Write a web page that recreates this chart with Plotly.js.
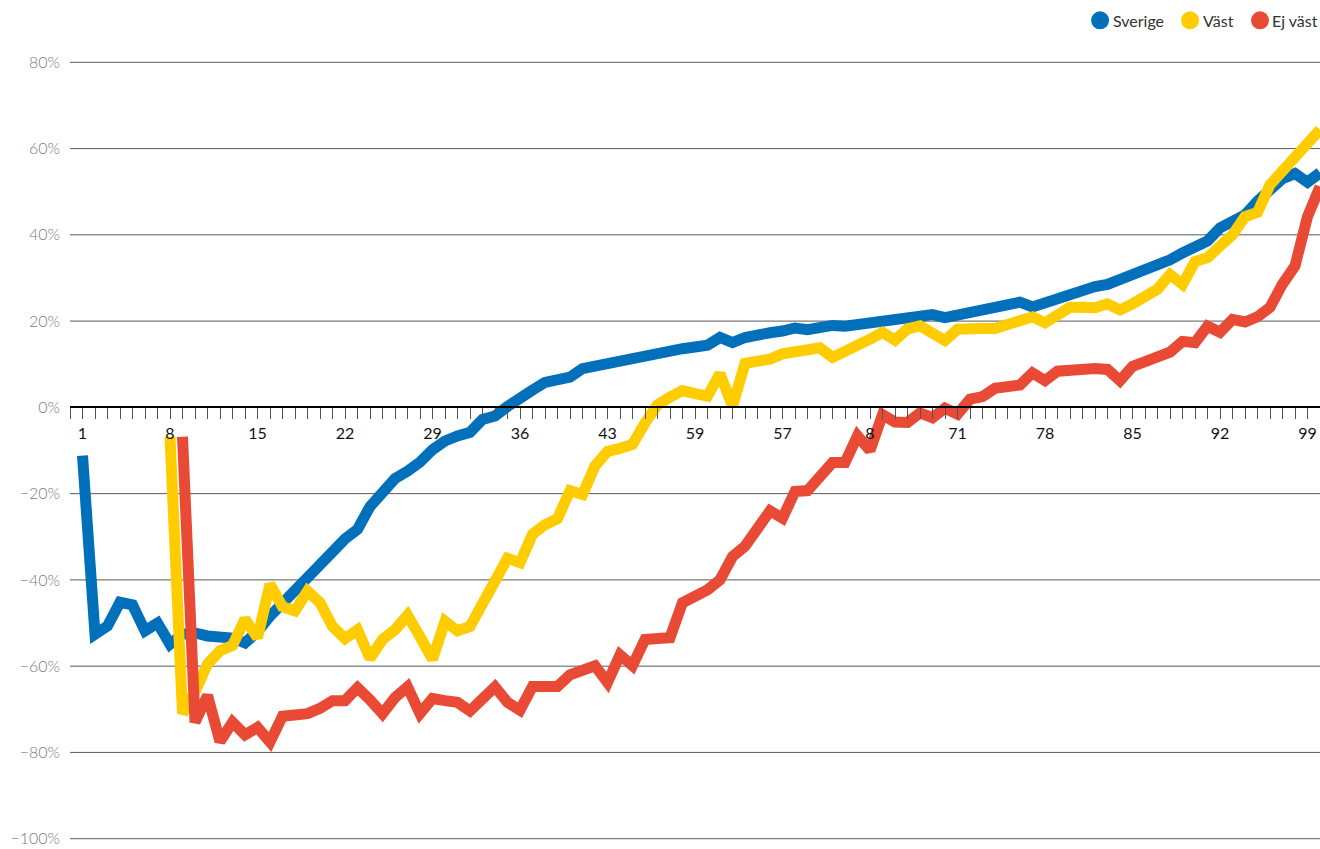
<!DOCTYPE html>
<html>
<head>
<meta charset="utf-8">
<script src="https://cdn.plot.ly/plotly-3.0.1.min.js"></script>
<style>
html,body{margin:0;padding:0;background:#fff;overflow:hidden;}
#chart{width:1320px;height:849px;}
</style>
</head>
<body>
<div id="chart"></div>
<script>
var categories = [];
for (var i = 1; i <= 100; i++) categories.push(i);

var tickPositions = [1, 8, 15, 22, 29, 36, 43, 50, 57, 64, 71, 78, 85, 92, 99];
var tickLabels = ["1", "8", "15", "22", "29", "36", "43", "59", "57", "8", "71", "78", "85", "92", "99"];

var yTickValues = [-100, -80, -60, -40, -20, 0, 20, 40, 60, 80];
var yTickLabels = ['\u2212100%', '\u221280%', '\u221260%', '\u221240%', '\u221220%', '0%', '20%', '40%', '60%', '80%'];

var sverige = [-11.2,-52.6,-50.7,-45.2,-45.8,-51.8,-50.0,-54.9,-52.6,-52.3,
-53.0,-53.3,-53.5,-54.6,-52.0,-48.4,-45.5,-43.0,-40.2,-36.8,
-33.5,-30.5,-28.3,-23.0,-19.7,-16.5,-14.8,-12.7,-9.8,-7.8,
-6.6,-5.8,-2.8,-2.0,0.2,2.5,4.0,5.8,6.4,7.0,
9.0,9.6,10.2,10.8,11.6,12.4,13.0,13.3,13.6,14.0,
14.4,16.2,15.0,16.2,17.0,17.3,17.7,18.4,18.0,18.5,
19.0,18.8,19.2,19.6,20.2,20.4,21.0,20.9,21.5,20.8,
21.3,21.9,22.3,22.8,23.8,24.4,23.3,24.3,25.4,26.3,
27.6,28.0,28.5,29.6,30.8,31.8,32.7,34.2,35.8,37.0,
38.6,41.6,43.4,44.6,47.8,50.6,53.0,54.2,52.2,54.4];

var vast = [null,null,null,null,null,null,null,-6.8,-71.0,-66.0,
-59.5,-56.4,-55.2,-49.1,-53.4,-41.0,-46.2,-47.2,-42.6,-45.3,
-50.8,-53.6,-51.6,-58.2,-53.8,-51.6,-48.2,-53.2,-58.4,-49.6,
-51.8,-50.8,-45.2,-40.0,-35.0,-36.0,-29.4,-27.2,-25.8,-19.3,
-20.2,-13.6,-10.2,-9.5,-8.6,-3.6,0.6,2.4,3.9,3.2,
2.6,7.8,0.3,10.2,10.6,11.2,12.4,13.0,13.2,13.8,
11.6,12.8,14.2,15.8,17.4,15.6,18.2,18.9,17.2,15.5,
18.1,18.4,18.3,18.3,19.3,20.3,21.0,19.6,21.3,23.2,
23.2,23.1,24.0,22.6,24.0,25.6,27.4,30.8,28.5,33.8,
34.7,37.4,40.0,44.2,45.2,51.6,54.6,58.2,61.4,64.4];

var ejVast = [null,null,null,null,null,null,null,null,-6.8,-73.0,
-66.8,-77.5,-73.0,-75.9,-74.2,-77.6,-71.6,-71.1,-71.0,-69.8,
-68.0,-68.0,-65.0,-67.8,-71.0,-67.3,-64.8,-71.0,-67.5,-68.0,
-68.4,-70.4,-67.7,-64.8,-68.4,-70.2,-64.7,-64.7,-64.7,-62.0,
-60.8,-59.9,-63.8,-57.4,-59.9,-53.8,-53.6,-53.4,-45.3,-43.9,
-42.3,-40.0,-34.6,-32.2,-27.6,-24.0,-25.7,-19.5,-19.3,-16.0,
-12.8,-12.8,-6.6,-10.0,-1.7,-3.4,-3.5,-1.3,-2.4,-0.2,
-1.6,1.9,2.5,4.4,4.9,5.2,8.0,6.2,8.4,8.8,
9.1,9.0,8.8,6.2,9.5,10.5,12.0,12.8,15.3,15.0,
18.8,17.4,20.4,19.8,21.0,23.2,28.6,32.8,44.2,51.2];

var seriesNames = ["Sverige", "Väst", "Ej väst"];
var seriesColors = ["#0070BA", "#FFCC00", "#E84A36"];
var seriesData = [sverige, vast, ejVast];

var W = 1320, H = 849, ML = 69.5, MR = 0, MT = 57.7, MB = 5.7;
var yMin = -101, yMax = 81;
var plotW = W - ML - MR, plotH = H - MT - MB;

var traces = [];
for (var s = 0; s < 3; s++) {
  traces.push({
    x: categories, y: seriesData[s], type: 'scatter', mode: 'lines',
    line: {color: seriesColors[s], width: 11, shape: 'linear'},
    connectgaps: false, showlegend: false, hoverinfo: 'skip', cliponaxis: false
  });
}

var shapes = [];
yTickValues.forEach(function (v) {
  if (v === 0) return;
  shapes.push({type: 'line', xref: 'paper', yref: 'y', x0: 0, x1: 1, y0: v, y1: v,
    line: {color: '#5a5a5a', width: 1}, layer: 'below'});
});

// custom legend (circle + text) positioned in paper coordinates
var legendMarkerPx = [1100, 1190, 1260];
var legendTextPx = [1111, 1201, 1270];
var legendYPx = 20;
var annotations = [];
var legY = (H - MB - legendYPx) / plotH;
for (var s = 0; s < 3; s++) {
  var mx = (legendMarkerPx[s] - ML) / plotW;
  shapes.push({type: 'circle', xref: 'paper', yref: 'paper',
    xsizemode: 'pixel', ysizemode: 'pixel', xanchor: mx, yanchor: legY,
    x0: -9, x1: 9, y0: -9, y1: 9,
    fillcolor: seriesColors[s], line: {width: 0}});
  annotations.push({xref: 'paper', yref: 'paper', x: (legendTextPx[s] - ML) / plotW, y: legY,
    xanchor: 'left', yanchor: 'middle', text: seriesNames[s], showarrow: false,
    font: {size: 16, color: '#333'}});
}

var layout = {
  width: W, height: H,
  margin: {l: ML, r: MR, t: MT, b: MB, pad: 0, autoexpand: false},
  paper_bgcolor: '#fff', plot_bgcolor: '#fff',
  font: {family: 'Lato, "Open Sans", sans-serif', size: 16, color: '#333'},
  showlegend: false,
  shapes: shapes,
  annotations: annotations,
  xaxis: {
    range: [0, 100], anchor: 'free', position: (0 - yMin) / (yMax - yMin),
    showgrid: false, zeroline: false, automargin: false,
    showline: true, linecolor: '#000', linewidth: 2,
    ticks: 'outside', ticklen: 11, tickwidth: 1, tickcolor: '#555',
    tickvals: tickPositions, ticktext: tickLabels,
    tickfont: {size: 16, color: '#111'},
    minor: {dtick: 1, tick0: 0, ticks: 'outside', ticklen: 11, tickwidth: 1, tickcolor: '#555', showgrid: false},
    fixedrange: true
  },
  yaxis: {
    range: [yMin, yMax], tickvals: yTickValues, ticktext: yTickLabels,
    showgrid: false, zeroline: false, showline: false, ticks: '', automargin: false,
    ticklabelstandoff: 9,
    tickfont: {size: 16, color: '#7a7a7a', weight: 300},
    fixedrange: true
  }
};

Plotly.newPlot('chart', traces, layout, {displayModeBar: false, staticPlot: true});
</script>
</body>
</html>
